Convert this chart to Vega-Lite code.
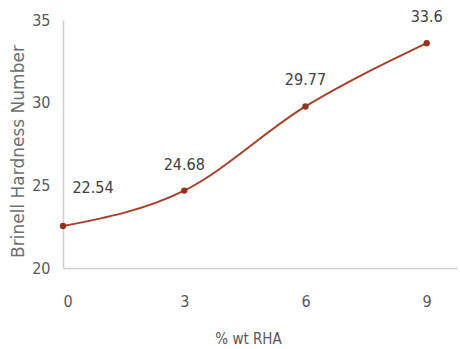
{
  "$schema": "https://vega.github.io/schema/vega-lite/v6.json",
  "width": 394,
  "height": 248,
  "autosize": {"type": "none"},
  "padding": {"left": 63, "top": 20, "right": 3, "bottom": 81},
  "background": "white",
  "config": {
    "view": {"stroke": null},
    "axis": {"grid": false, "ticks": false, "domainColor": "#d0d0d0", "domainWidth": 1.5,
             "labelColor": "#595959", "labelFont": "DejaVu Sans Condensed", "labelFontSize": 16,
             "titleColor": "#595959", "titleFontWeight": "normal"}
  },
  "data": {"values": [
    {"rha": 0, "bhn": 22.54},
    {"rha": 3, "bhn": 24.68},
    {"rha": 6, "bhn": 29.77},
    {"rha": 9, "bhn": 33.6}
  ]},
  "encoding": {
    "x": {"field": "rha", "type": "quantitative",
          "scale": {"domain": [0, 9.75], "nice": false, "zero": false},
          "axis": {"values": [0, 3, 6, 9], "labelPadding": 25, "title": "% wt RHA",
                   "titleFont": "DejaVu Sans Condensed", "titleFontSize": 15,
                   "titleX": 185, "titlePadding": 22}},
    "y": {"field": "bhn", "type": "quantitative",
          "scale": {"domain": [20, 35], "nice": false, "zero": false},
          "axis": {"values": [20, 25, 30, 35], "labelPadding": 13, "title": "Brinell Hardness Number",
                   "titleFont": "DejaVu Sans", "titleFontSize": 17, "titleColor": "#6e6e6e",
                   "titleY": 131, "titlePadding": 4}}
  },
  "layer": [
    {"mark": {"type": "line", "interpolate": "monotone", "color": "#a8412a", "strokeWidth": 2}},
    {"mark": {"type": "point", "filled": true, "size": 40, "color": "#93321e", "opacity": 1}},
    {"transform": [{"filter": "datum.rha > 0"}],
     "mark": {"type": "text", "dy": -26, "font": "DejaVu Sans Condensed", "fontSize": 16, "color": "#404040"},
     "encoding": {"text": {"field": "bhn", "type": "quantitative", "format": ".4~"}}},
    {"transform": [{"filter": "datum.rha == 0"}],
     "mark": {"type": "text", "dx": 30, "dy": -38, "font": "DejaVu Sans Condensed", "fontSize": 16, "color": "#404040"},
     "encoding": {"text": {"field": "bhn", "type": "quantitative", "format": ".4~"}}}
  ]
}
